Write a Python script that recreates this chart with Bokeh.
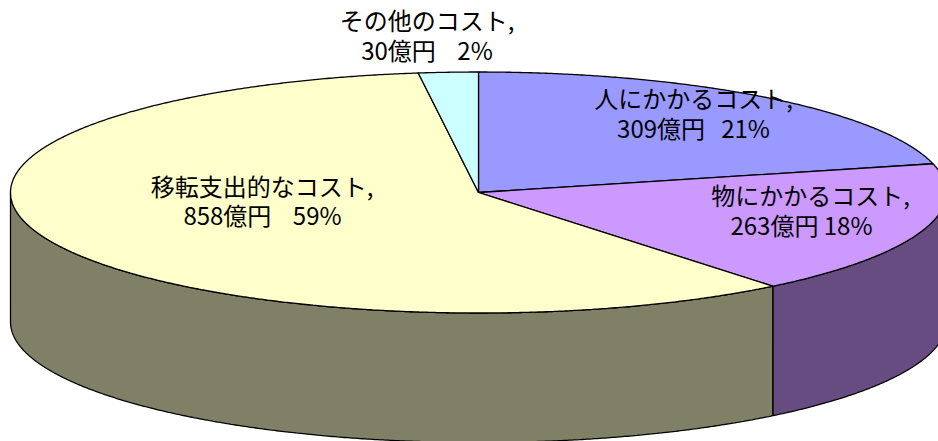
import numpy as np
from bokeh.core.properties import value
from bokeh.embed import file_html
from bokeh.models import Range1d
from bokeh.plotting import figure
from bokeh.resources import INLINE

# Cost breakdown, in 億円, clockwise from twelve o'clock
categories = ["人にかかるコスト", "物にかかるコスト", "移転支出的なコスト", "その他のコスト"]
amounts = [309, 263, 858, 30]
percents = [21, 18, 59, 2]
amount_gaps = [3, 1, 4, 4]
top_colors = ["#9999FF", "#CC99FF", "#FFFFCC", "#CCFFFF"]
side_colors = ["#4C4C80", "#664C80", "#808066", "#668080"]

# Tilted pie geometry, in page pixels
CX, CY, RX, RY, DEPTH = 478.0, 192.0, 468.0, 120.5, 129.5
NAME_X = [693, 810, 261.5, 426.5]
AMOUNT_X = [693, 801, 262, 426.5]
NAME_Y = [96.5, 193.5, 184.5, 18.5]
AMOUNT_Y = [126.5, 223.5, 213.5, 48.5]
FONT = value("Noto Sans CJK JP")
FONT_SIZE = "24px"


def rim(start, end):
    """Points along the top rim between two clockwise angles in radians."""
    t = np.linspace(start, end, max(2, int(abs(end - start) * 180)))
    return CX + RX * np.sin(t), CY - RY * np.cos(t)


p = figure(
    width=938,
    height=441,
    x_range=Range1d(0, 938),
    y_range=Range1d(441, 0),
    output_backend="svg",
    toolbar_location=None,
    min_border=0,
    outline_line_color=None,
    background_fill_color="white",
    border_fill_color="white",
)
p.axis.visible = False
p.grid.visible = False

fractions = np.array(amounts) / sum(amounts)
stops = np.concatenate([[0.0], np.cumsum(fractions)]) * 2 * np.pi

# Outer wall: only the front half of the rim, from three to nine o'clock
for i, color in enumerate(side_colors):
    start, end = max(stops[i], np.pi / 2), min(stops[i + 1], 3 * np.pi / 2)
    if start >= end:
        continue
    x, y = rim(start, end)
    p.patch(
        np.concatenate([x, x[::-1]]),
        np.concatenate([y, y[::-1] + DEPTH]),
        fill_color=color,
        line_color="black",
        line_width=1.3,
    )

# Top faces
for i, color in enumerate(top_colors):
    x, y = rim(stops[i], stops[i + 1])
    p.patch(
        np.concatenate([[CX], x]),
        np.concatenate([[CY], y]),
        fill_color=color,
        line_color="black",
        line_width=1.3,
    )

# Two-line labels: name, then amount and share
name_lines = [f"{c}," for c in categories]
amount_lines = [
    f"{a}億円{chr(0xA0) * g}{s}%" for a, g, s in zip(amounts, amount_gaps, percents)
]
for xs, ys, lines in ((NAME_X, NAME_Y, name_lines), (AMOUNT_X, AMOUNT_Y, amount_lines)):
    p.text(
        x=xs,
        y=ys,
        text=lines,
        text_font=FONT,
        text_font_size=FONT_SIZE,
        text_color="black",
        text_align="center",
        text_baseline="middle",
    )

open("out.html", "w").write(file_html(p, INLINE))
